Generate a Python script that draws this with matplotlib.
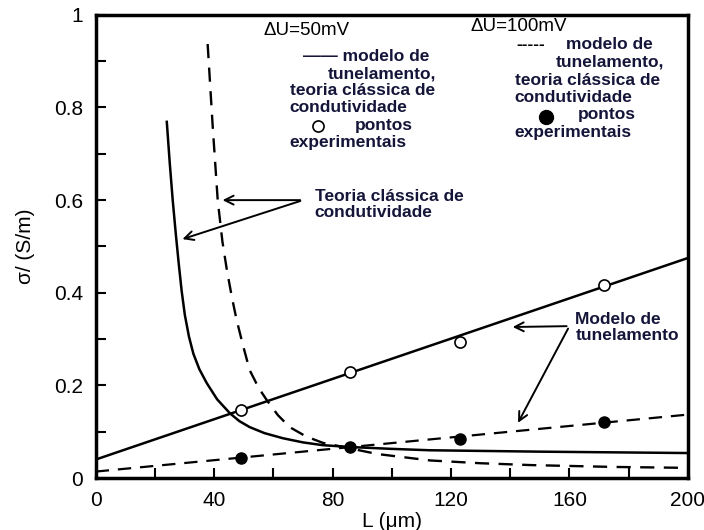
import numpy as np
import matplotlib.pyplot as plt

plt.rcParams['font.family'] = ['Liberation Sans', 'DejaVu Sans']

# pontos experimentais
L_exp = [49, 86, 123, 171.6]
sig_50 = [0.147, 0.229, 0.294, 0.417]
sig_100 = [0.043, 0.067, 0.084, 0.121]

# modelo de tunelamento (retas)
L_tun = [0, 200]
tun_50 = [0.04, 0.475]
tun_100 = [0.014, 0.137]

# teoria classica de condutividade
L_cl50 = [24.0, 25, 26, 27, 28, 29, 30.1, 31.5, 33, 35, 37.5, 41, 45.3, 48.5,
          52, 57, 63.2, 70, 76.7, 86, 100, 112.8, 150, 200]
cl_50 = [0.769, 0.68, 0.60, 0.53, 0.465, 0.405, 0.352, 0.305, 0.268, 0.235, 0.205, 0.170,
         0.140, 0.123, 0.110, 0.097, 0.086, 0.077, 0.071, 0.067, 0.063, 0.060, 0.057, 0.054]
L_cl100 = [37.8, 39.5, 41.2, 42.8, 44.3, 46, 47.6, 49.8, 52, 55, 57.8, 61.5, 65.5, 71,
           76.7, 86, 95, 113, 130, 147, 175, 200]
cl_100 = [0.937, 0.76, 0.60, 0.51, 0.449, 0.39, 0.341, 0.285, 0.233, 0.195, 0.168, 0.136,
          0.110, 0.090, 0.076, 0.064, 0.052, 0.038, 0.032, 0.028, 0.024, 0.022]

fig = plt.figure(figsize=(7.04, 5.30), dpi=100)
ax = fig.add_axes([0.136, 0.098, 0.841, 0.874])

dash = (0, (6, 4))
ax.plot(L_tun, tun_50, color='black', lw=1.8)
ax.plot(L_tun, tun_100, color='black', lw=1.6, ls=dash)
ax.plot(L_cl50, cl_50, color='black', lw=1.8)
ax.plot(L_cl100, cl_100, color='black', lw=1.7, ls=dash)
ax.plot(L_exp, sig_50, 'o', mfc='white', mec='black', ms=8, mew=1.2)
ax.plot(L_exp, sig_100, 'o', color='black', ms=8)

ax.set_xlim(0, 200)
ax.set_ylim(0, 1)
ax.set_xticks(np.arange(0, 201, 40))
ax.set_xticklabels(['0', '40', '80', '120', '160', '200'])
ax.set_xticks(np.arange(20, 200, 40), minor=True)
ax.set_yticks(np.arange(0, 1.01, 0.2))
ax.set_yticklabels(['0', '0.2', '0.4', '0.6', '0.8', '1'])
ax.set_yticks(np.arange(0.1, 1, 0.2), minor=True)
ax.tick_params(which='both', direction='in', width=1.5, labelsize=15, pad=9)
ax.tick_params(which='major', length=7)
ax.tick_params(which='minor', length=7)
for s in ax.spines.values():
    s.set_linewidth(2.5)

ax.set_xlabel('L (μm)', fontsize=15, labelpad=2)
ax.set_ylabel('σ/ (S/m)', fontsize=15, labelpad=14)

tc = '#15153a'
fs = 12.5
# legenda 50 mV
ax.text(56.5, 0.966, 'ΔU=50mV', fontsize=13.5, va='center')
ax.text(70, 0.91, '—— modelo de', fontsize=fs, weight='bold', va='center', color=tc)
ax.text(78.5, 0.873, 'tunelamento,', fontsize=fs, weight='bold', va='center', color=tc)
ax.text(65.5, 0.836, 'teoria clássica de', fontsize=fs, weight='bold', va='center', color=tc)
ax.text(65.5, 0.799, 'condutividade', fontsize=fs, weight='bold', va='center', color=tc)
ax.plot([75], [0.76], 'o', mfc='white', mec='black', ms=8, mew=1.2)
ax.text(87.5, 0.762, 'pontos', fontsize=fs, weight='bold', va='center', color=tc)
ax.text(65.5, 0.724, 'experimentais', fontsize=fs, weight='bold', va='center', color=tc)

# legenda 100 mV
ax.text(126.5, 0.974, 'ΔU=100mV', fontsize=13.5, va='center')
ax.text(142, 0.935, '-----', fontsize=fs, weight='bold', va='center')
ax.text(159, 0.937, 'modelo de', fontsize=fs, weight='bold', va='center', color=tc)
ax.text(155.5, 0.898, 'tunelamento,', fontsize=fs, weight='bold', va='center', color=tc)
ax.text(141.5, 0.859, 'teoria clássica de', fontsize=fs, weight='bold', va='center', color=tc)
ax.text(141.5, 0.822, 'condutividade', fontsize=fs, weight='bold', va='center', color=tc)
ax.plot([152], [0.78], 'o', color='black', ms=10)
ax.text(163, 0.785, 'pontos', fontsize=fs, weight='bold', va='center', color=tc)
ax.text(141.5, 0.747, 'experimentais', fontsize=fs, weight='bold', va='center', color=tc)

# anotacoes
ax.text(74, 0.59, 'Teoria clássica de\ncondutividade', fontsize=fs, weight='bold',
        va='center', color=tc, linespacing=1.1)
ap = dict(arrowstyle='->', color='black', lw=1.4, mutation_scale=16)
ax.annotate('', xy=(41.9, 0.600), xytext=(70, 0.60), arrowprops=ap)
ax.annotate('', xy=(28.4, 0.514), xytext=(70, 0.60), arrowprops=ap)
ax.text(162, 0.325, 'Modelo de\ntunelamento', fontsize=fs, weight='bold',
        va='center', color=tc, linespacing=1.1)
ax.annotate('', xy=(139.9, 0.326), xytext=(160, 0.328), arrowprops=ap)
ax.annotate('', xy=(142.2, 0.114), xytext=(160, 0.328), arrowprops=ap)

fig.savefig('out.png', dpi=100)
